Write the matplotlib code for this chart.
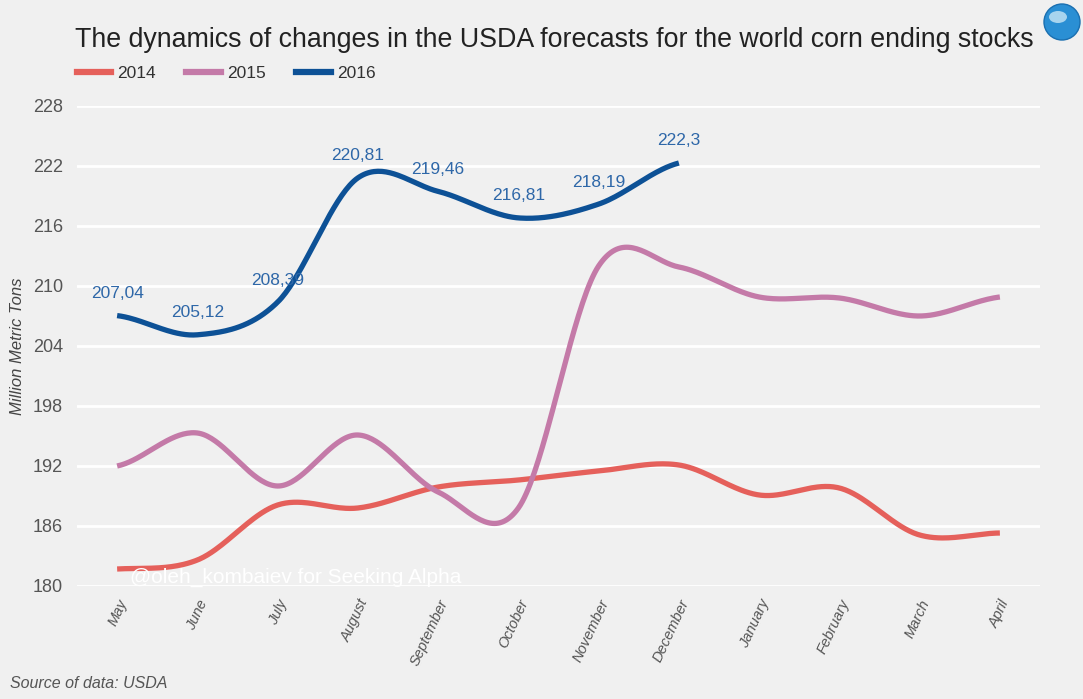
import numpy as np
import matplotlib
matplotlib.use("Agg")
import matplotlib.pyplot as plt
from matplotlib.lines import Line2D
from matplotlib.patches import Ellipse

months = ["May", "June", "July", "August", "September", "October", "November",
          "December", "January", "February", "March", "April"]
s2014 = [181.7, 182.6, 188.1, 187.8, 189.9, 190.6, 191.5, 192.1, 189.1, 189.8, 185.1, 185.3]
s2015 = [192.0, 195.3, 190.0, 195.1, 189.4, 187.8, 212.0, 211.9, 208.9, 208.8, 207.0, 208.9]
s2016 = [207.04, 205.12, 208.39, 220.81, 219.46, 216.81, 218.19, 222.3]
labels2016 = ["207,04", "205,12", "208,39", "220,81", "219,46", "216,81", "218,19", "222,3"]
yticks = [180, 186, 192, 198, 204, 210, 216, 222, 228]

c14, c15, c16 = "#e5605b", "#c47aa8", "#0d5196"
BG = "#f0f0f0"


def spline(y, n=40):
    y = np.asarray(y, float)
    x = np.arange(len(y), dtype=float)
    m = np.zeros_like(y)
    m[1:-1] = (y[2:] - y[:-2]) / 2.0
    m[0] = (y[1] - y[0]) * 0.5
    m[-1] = (y[-1] - y[-2]) * 0.5
    xs, ys = [], []
    for i in range(len(y) - 1):
        t = np.linspace(0, 1, n, endpoint=(i == len(y) - 2))
        h00 = 2 * t**3 - 3 * t**2 + 1
        h10 = t**3 - 2 * t**2 + t
        h01 = -2 * t**3 + 3 * t**2
        h11 = t**3 - t**2
        xs.append(x[i] + t)
        ys.append(h00 * y[i] + h10 * m[i] + h01 * y[i + 1] + h11 * m[i + 1])
    return np.concatenate(xs), np.concatenate(ys)


W, H = 1083, 699
fig = plt.figure(figsize=(W / 100, H / 100), dpi=100, facecolor=BG)
plt.rcParams['font.family'] = ['Liberation Sans', 'DejaVu Sans']
ax = fig.add_axes([77 / W, (H - 586) / H, (1040 - 77) / W, (586 - 106) / H])
ax.set_facecolor(BG)
for sp in ax.spines.values():
    sp.set_visible(False)

ax.set_xlim(-0.5, 11.5)
ax.set_ylim(180, 228)
ax.set_yticks(yticks)
ax.set_yticklabels([str(v) for v in yticks], fontsize=13, color="#555555")
ax.tick_params(axis='y', length=0, pad=10)
ax.grid(axis='y', color="white", lw=2)
ax.set_axisbelow(True)

ax.set_xticks(range(len(months)))
ax.set_xticklabels(months, rotation=65, ha='right', rotation_mode='anchor',
                   fontsize=10.5, color="#555555", style='italic')
ax.tick_params(axis='x', length=0, pad=8)

for data, col in [(s2014, c14), (s2015, c15), (s2016, c16)]:
    xs, ys = spline(data)
    ax.plot(xs, ys, color=col, lw=3.8, solid_capstyle='butt', clip_on=False, zorder=3)

for i, (v, lab) in enumerate(zip(s2016, labels2016)):
    ax.annotate(lab, (i, v), xytext=(0, 10.5), textcoords='offset points',
                ha='center', va='bottom', fontsize=12.5, color="#2e67a8", zorder=4)

ax.set_ylabel("Million Metric Tons", fontsize=12, color="#444444", style='italic')
ax.yaxis.set_label_coords(-52 / (1040 - 77), 0.5)

fig.text(75 / W, 1 - 40 / H, "The dynamics of changes in the USDA forecasts for the world corn ending stocks",
         fontsize=19.3, color="#222222", va='center', ha='left')

handles = [Line2D([], [], color=c, lw=4.5) for c in (c14, c15, c16)]
fig.legend(handles, ["2014", "2015", "2016"], loc='center left',
           bbox_to_anchor=(61 / W, 1 - 73 / H), ncol=3, frameon=False,
           fontsize=12.5, handlelength=2.0, handletextpad=0.35, columnspacing=1.75,
           labelcolor="#333333")

fig.text(130 / W, 1 - 577 / H, "@oleh_kombaiev for Seeking Alpha", fontsize=15,
         color="white", va='center', ha='left', zorder=5)
fig.text(10 / W, 1 - 684 / H, "Source of data: USDA", fontsize=11.5, color="#555555",
         style='italic', va='center', ha='left')

# globe icon
gx, gy = 1062 / W, 1 - 22 / H
fig.patches.append(Ellipse((gx, gy), 36 / W, 36 / H, transform=fig.transFigure,
                           facecolor="#2a8fd4", edgecolor="#1a6fb0", lw=1))
fig.patches.append(Ellipse((gx - 4 / W, gy + 5 / H), 18 / W, 12 / H, transform=fig.transFigure,
                           facecolor="#c9e6f5", edgecolor="none", alpha=0.8))

fig.savefig("out.png", dpi=100, facecolor=BG)
